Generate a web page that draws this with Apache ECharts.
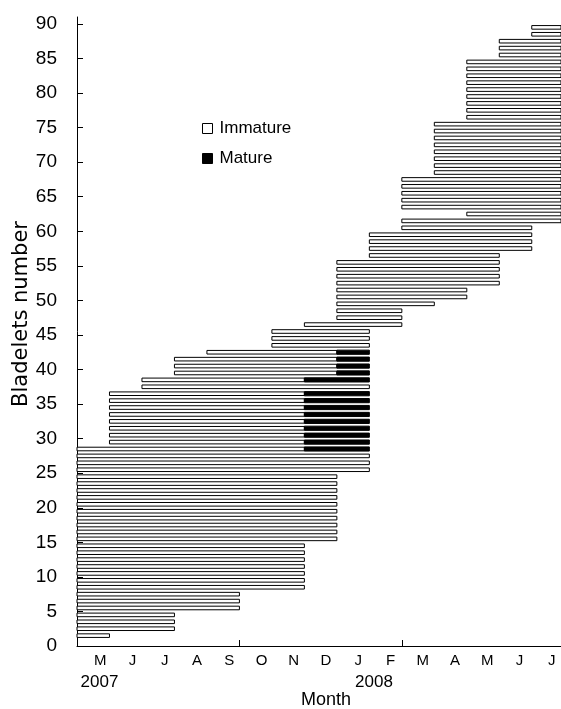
<!DOCTYPE html>
<html>
<head>
<meta charset="utf-8">
<script src="https://cdn.jsdelivr.net/npm/echarts@6/dist/echarts.min.js"></script>
<style>
  html, body { margin: 0; background: #fff; }
  #main { width: 561px; height: 709px; }
</style>
</head>
<body>
<div id="main"></div>
<script>
// bladelet numbers, bottom to top
const bladelets = [
  1, 2, 3, 4, 5, 6, 7, 8, 9, 10, 11, 12, 13, 14, 15, 16, 17, 18, 19, 20,
  21, 22, 23, 24, 25, 26, 27, 28, 29, 30, 31, 32, 33, 34, 35, 36, 37, 38, 39, 40,
  41, 42, 43, 44, 45, 46, 47, 48, 49, 50, 51, 52, 53, 54, 55, 56, 57, 58, 59, 60,
  61, 62, 63, 64, 65, 66, 67, 68, 69, 70, 71, 72, 73, 74, 75, 76, 77, 78, 79, 80,
  81, 82, 83, 84, 85, 86, 87, 88, 89
]
// months counted from the start of May 2007 (0) on
const immatureStart = [
  0, 0, 0, 0, 0, 0, 0, 0, 0, 0, 0, 0, 0, 0, 0, 0, 0, 0, 0, 0,
  0, 0, 0, 0, 0, 0, 0, 0, 1, 1, 1, 1, 1, 1, 1, 1, 2, 2, 3, 3,
  3, 4, 6, 6, 6, 7, 8, 8, 8, 8, 8, 8, 8, 8, 8, 9, 9, 9, 9, 10,
  10, 12, 10, 10, 10, 10, 10, 11, 11, 11, 11, 11, 11, 11, 11, 12, 12, 12, 12, 12,
  12, 12, 12, 12, 13, 13, 13, 14, 14
]
const immatureEnd = [
  1, 3, 3, 3, 5, 5, 5, 7, 7, 7, 7, 7, 7, 7, 8, 8, 8, 8, 8, 8,
  8, 8, 8, 8, 9, 9, 9, 7, 7, 7, 7, 7, 7, 7, 7, 7, 9, 7, 8, 8,
  8, 8, 9, 9, 9, 10, 10, 10, 11, 12, 12, 13, 13, 13, 13, 13, 14, 14, 14, 14,
  15, 15, 15, 15, 15, 15, 15, 15, 15, 15, 15, 15, 15, 15, 15, 15, 15, 15, 15, 15,
  15, 15, 15, 15, 15, 15, 15, 15, 15
]
const matureIds = [28, 29, 30, 31, 32, 33, 34, 35, 36, 38, 39, 40, 41, 42]
const matureStart = [7, 7, 7, 7, 7, 7, 7, 7, 7, 7, 8, 8, 8, 8]
const matureEnd = [9, 9, 9, 9, 9, 9, 9, 9, 9, 9, 9, 9, 9, 9]

const months = ["M", "J", "J", "A", "S", "O", "N", "D", "J", "F", "M", "A", "M", "J", "J"]
const yTicks = [0, 5, 10, 15, 20, 25, 30, 35, 40, 45, 50, 55, 60, 65, 70, 75, 80, 85, 90]
const xTicks = [5, 10]

const sans = "'Liberation Sans', Arial, sans-serif"

const renderBar = (fill, h) => (params, api) => {
  const n = api.value(0)
  const p0 = api.coord([api.value(1), n + 0.5])
  const p1 = api.coord([api.value(2), n + 0.5])
  const cs = params.coordSys
  const shape = echarts.graphic.clipRectByRect(
    { x: p0[0], y: p0[1] - h / 2, width: p1[0] - p0[0], height: h },
    { x: cs.x, y: cs.y - 20, width: cs.width, height: cs.height + 20 }
  )
  return shape && {
    type: "rect",
    shape: shape,
    style: { fill: fill, stroke: "#000", lineWidth: 1 },
  }
}

const chart = echarts.init(document.getElementById("main"))
const option = {
  animation: false,
  backgroundColor: "#fff",
  grid: { left: 77, right: 0, top: 17, bottom: 63 },
  legend: {
    orient: "vertical",
    left: 197,
    top: 115,
    itemWidth: 10,
    itemHeight: 10,
    itemGap: 13,
    selectedMode: false,
    textStyle: { fontSize: 17, fontFamily: sans, color: "#000", padding: [0, 0, 0, 2] },
    data: [
      { name: "Immature", icon: "rect", itemStyle: { color: "#fff", borderColor: "#000", borderWidth: 1 } },
      { name: "Mature", icon: "rect", itemStyle: { color: "#000", borderColor: "#000", borderWidth: 1 } },
    ],
  },
  xAxis: [
    {
      type: "value",
      min: 0,
      max: 14.9,
      axisLine: { show: true, lineStyle: { color: "#000", width: 1 } },
      axisTick: { show: true, inside: true, length: 6, customValues: xTicks, lineStyle: { color: "#000" } },
      axisLabel: { show: false },
      splitLine: { show: false },
    },
    {
      type: "category",
      position: "bottom",
      data: months,
      axisLine: { show: false },
      axisTick: { show: false },
      axisLabel: { margin: 7, fontSize: 15, fontFamily: sans, color: "#000", padding: [0, 0, 0, 14] },
      splitLine: { show: false },
    },
  ],
  yAxis: {
    type: "value",
    min: 0,
    max: 91,
    axisLine: { show: true, lineStyle: { color: "#000", width: 1 } },
    axisTick: { show: true, inside: true, length: 6, customValues: yTicks, lineStyle: { color: "#000" } },
    axisLabel: { customValues: yTicks, margin: 20, fontSize: 19, fontFamily: sans, color: "#000" },
    splitLine: { show: false },
  },
  graphic: [
    { type: "text", x: 99.5, y: 682, style: { text: "2007", fontSize: 17, fontFamily: sans, fill: "#000", textAlign: "center", textVerticalAlign: "middle" } },
    { type: "text", x: 374, y: 682, style: { text: "2008", fontSize: 17, fontFamily: sans, fill: "#000", textAlign: "center", textVerticalAlign: "middle" } },
    { type: "text", x: 326, y: 700, style: { text: "Month", fontSize: 18, fontFamily: sans, fill: "#000", textAlign: "center", textVerticalAlign: "middle" } },
    { type: "text", x: 21.5, y: 314, rotation: Math.PI / 2, style: { text: "Bladelets number", fontSize: 21, fontFamily: "'DejaVu Sans', sans-serif", fill: "#000", textAlign: "center", textVerticalAlign: "middle" } },
  ],
  series: [
    {
      name: "Immature",
      type: "custom",
      renderItem: renderBar("#fff", 3.6),
      itemStyle: { color: "#fff", borderColor: "#000" },
      encode: { x: [1, 2], y: 0 },
      data: bladelets.map((n, i) => [n, immatureStart[i], immatureEnd[i]]),
    },
    {
      name: "Mature",
      type: "custom",
      renderItem: renderBar("#000", 4.2),
      itemStyle: { color: "#000", borderColor: "#000" },
      encode: { x: [1, 2], y: 0 },
      data: matureIds.map((n, i) => [n, matureStart[i], matureEnd[i]]),
    },
  ],
}

option && chart.setOption(option)
</script>
</body>
</html>
